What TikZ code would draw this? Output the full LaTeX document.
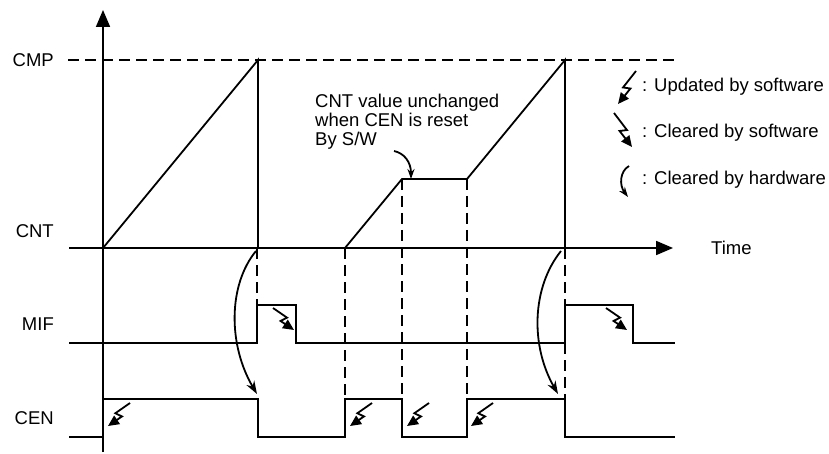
\documentclass[tikz,border=0pt]{standalone}
\usepackage{fontspec}
\setmainfont{Liberation Sans}
\usetikzlibrary{arrows.meta,calc}
\newcommand\boltdraw[3]{\draw[boltline] (#1) -- ($(#1)!0.55!(#2)!3.5pt!#3:(#2)$) -- ($(#1)!0.48!(#2)!3.5pt!-#3:(#2)$) -- (#2);}
\begin{document}
\begin{tikzpicture}[x=1pt,y=-1pt,
  every node/.style={inner sep=0pt, font=\fontsize{18.5}{19}\selectfont},
  wave/.style={line width=1.8pt, line join=miter},
  dashline/.style={line width=1.8pt, dash pattern=on 11pt off 6pt},
  boltline/.style={line width=1.8pt, line join=miter, -{Triangle[length=11pt,width=10pt]}},
  hwarrow/.style={line width=1.8pt, -{Stealth[length=13pt,width=9pt]}},
  smallarrow/.style={line width=1.8pt, -{Stealth[length=10pt,width=7pt]}},
  axisarrow/.style={line width=1.8pt, -{Triangle[length=17pt,width=14pt]}}]
\useasboundingbox (0,0) rectangle (829,454);
% labels
\node[anchor=east] (lcmp) at (54,60) {CMP};
\node[anchor=east] (lcnt) at (54,231) {CNT};
\node[anchor=east] (lmif) at (54,324) {MIF};
\node[anchor=east] (lcen) at (54,418) {CEN};
\node[anchor=west] (ltime) at (711,248) {Time};
% axes
\coordinate (ybot) at (103,452);
\coordinate (ytop) at (103,10);
\coordinate (xl) at (69,248);
\coordinate (xr) at (673,248);
\draw[axisarrow] (ybot) -- (ytop);
\draw[axisarrow] (xl) -- (xr);
% CMP dashed level
\draw[dashline] (68,60) -- (675,60);
% CNT waveform
\draw[wave] (103,248) -- (258,60) -- (258,248);
\draw[wave] (345,248) -- (402,179) -- (467,179) -- (565,60) -- (565,248);
% MIF waveform
\draw[wave] (69,343) -- (257,343) -- (257,305) -- (296,305) -- (296,343) -- (565,343) -- (565,305) -- (633,305) -- (633,343) -- (675,343);
% CEN waveform
\draw[wave] (69,437) -- (103,437) -- (103,399) -- (258,399) -- (258,437) -- (345,437) -- (345,399) -- (402,399) -- (402,437) -- (467,437) -- (467,399) -- (565,399) -- (565,437) -- (675,437);
% dashed guides
\draw[dashline] (257,248) -- (257,305);
\draw[dashline] (345,248) -- (345,399);
\draw[dashline] (402,179) -- (402,399);
\draw[dashline] (467,179) -- (467,399);
\draw[dashline] (565,248) -- (565,305);
\draw[dashline] (565,343) -- (565,399);
% hardware clear arrows
\coordinate (h1s) at (256,251);
\coordinate (h1e) at (257,394);
\draw[hwarrow] (h1s) .. controls (228,285) and (228,345) .. (h1e);
\coordinate (h2s) at (561,251);
\coordinate (h2e) at (558,394);
\draw[hwarrow] (h2s) .. controls (532,287) and (530,345) .. (h2e);
% software clear bolts on MIF
\coordinate (m1s) at (273,308);
\coordinate (m1e) at (294,330);
\boltdraw{m1s}{m1e}{90}
\coordinate (m2s) at (606,308);
\coordinate (m2e) at (627,330);
\boltdraw{m2s}{m2e}{90}
% software update bolts on CEN
\coordinate (c1s) at (130,403);
\coordinate (c1e) at (108,426);
\boltdraw{c1s}{c1e}{-90}
\coordinate (c2s) at (372,403);
\coordinate (c2e) at (350,426);
\boltdraw{c2s}{c2e}{-90}
\coordinate (c3s) at (429,403);
\coordinate (c3e) at (407,426);
\boltdraw{c3s}{c3e}{-90}
\coordinate (c4s) at (493,403);
\coordinate (c4e) at (471,426);
\boltdraw{c4s}{c4e}{-90}
% annotation
\node[anchor=west, align=left] (note) at (315,122) {CNT value unchanged\\when CEN is reset\\By S/W};
\coordinate (ns) at (394,151);
\coordinate (ne) at (411,179);
\draw[smallarrow] (ns) .. controls (404,153) and (411,162) .. (ne);
% legend
\coordinate (g1s) at (636,71);
\coordinate (g1e) at (618,104);
\boltdraw{g1s}{g1e}{-90}
\node[anchor=west] (t1) at (642,87) {: Updated by software};
\coordinate (g2s) at (614,113);
\coordinate (g2e) at (632,147);
\boltdraw{g2s}{g2e}{90}
\node[anchor=west] (t2) at (642,133) {: Cleared by software};
\coordinate (g3s) at (629,166);
\coordinate (g3e) at (628,197);
\draw[smallarrow] (g3s) .. controls (620,171) and (619,185) .. (g3e);
\node[anchor=west] (t3) at (642,180) {: Cleared by hardware};
\end{tikzpicture}
\end{document}
